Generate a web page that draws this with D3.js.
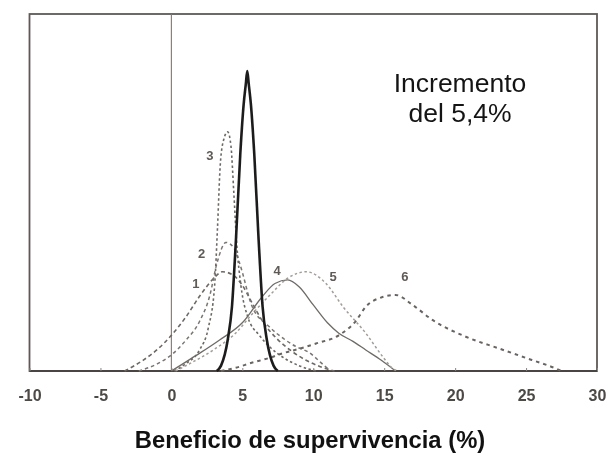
<!DOCTYPE html>
<html>
<head>
<meta charset="utf-8">
<script src="https://cdn.jsdelivr.net/npm/d3@7"></script>
<style>
  html, body { margin: 0; padding: 0; background: #ffffff; }
  svg { display: block; font-family: "Liberation Sans", Arial, sans-serif; }
</style>
</head>
<body>
<svg id="chart" width="610" height="453"></svg>
<script>
// X axis ticks (beneficio de supervivencia, %)
const xTicks = [-10, -5, 0, 5, 10, 15, 20, 25, 30];

// Curves: x = beneficio (%), y = densidad relativa (0–100 of plot height)
const curve1X = [-3.3, -2, -1, 0, 1, 2, 3, 3.6, 4.3, 5.0, 5.7, 6.5, 7.5, 8.5, 9.5, 10.5, 11.5];
const curve1Y = [0, 3, 6, 10, 15, 21, 26, 27.8, 27, 24, 19, 13.5, 8.8, 5.5, 3, 1.2, 0];

const curve2X = [-2.3, -1, 0, 1, 2, 2.7, 3.2, 3.85, 4.4, 4.8, 5.7, 6.9, 8.0, 8.8, 9.7, 10.5, 11.2];
const curve2Y = [0, 2, 4.5, 8.5, 14, 21, 30, 36, 34.5, 30.3, 18, 12.4, 8.8, 6.8, 5.2, 2.5, 0];

const curve3X = [0.2, 1, 2, 2.6, 3.05, 3.25, 3.45, 3.7, 3.97, 4.2, 4.4, 4.6, 4.9, 5.4, 6.2, 7.0, 8.0, 9.0, 10.2];
const curve3Y = [0, 2, 6, 12, 24, 40, 58, 65, 67, 63, 50, 36, 24, 15, 10, 6.5, 3.5, 1.5, 0];

const curve4X = [0, 1, 2, 3.4, 5, 6.4, 7.3, 8.2, 9.0, 10, 11, 11.8, 12.8, 13.7, 14.8, 15.8];
const curve4Y = [0, 2.5, 5, 8.7, 13.5, 20.8, 24.5, 25.5, 23.6, 18.5, 13.5, 10.6, 8.3, 5.9, 3, 0];

const curve5X = [0.3, 1.5, 3, 4.5, 5.7, 7, 8.2, 9.5, 10.9, 12.1, 13.7, 14.9, 15.6, 16];
const curve5Y = [0, 2.5, 6, 10.5, 16, 21.5, 26, 27.8, 24.5, 18, 10.6, 4, 0.7, 0];

const curve6X = [3.5, 4.8, 5.5, 7, 7.8, 9, 10.2, 11.8, 13, 13.7, 14.8, 15.8, 17, 18.4, 20.75, 23.1, 25.4, 27.1, 27.5];
const curve6Y = [0, 1.2, 2.1, 3.8, 4.9, 6.2, 7.7, 10, 14, 18, 20.6, 21.3, 18.5, 14.3, 9.6, 6.3, 3.1, 0.7, 0];

// Pooled estimate (incremento del 5,4%)
const pooledX = [3.2, 3.5, 3.97, 4.27, 4.55, 4.86, 5.09, 5.25, 5.35, 5.45, 5.61, 5.84, 6.15, 6.43, 6.73, 7.2, 7.5];
const pooledY = [0, 1.5, 8.7, 18, 36.7, 61, 74.5, 80.5, 84, 80.5, 74.5, 61, 36.7, 18, 8.7, 1.5, 0];

// Curve number labels, anchored in data units
const labelNames = ["1", "2", "3", "4", "5", "6"];
const labelX = [1.73, 2.14, 2.72, 7.46, 11.4, 16.46];
const labelY = [24.6, 33, 60.5, 28.3, 26.4, 26.4];

const xTitle = "Beneficio de supervivencia (%)";
const noteLines = ["Incremento", "del 5,4%"];

// ---- layout ----
const svg = d3.select("#chart");
const plotLeft = 29.5, plotRight = 597, plotTop = 14, plotBottom = 371;

const x = d3.scaleLinear().domain([-10, 30]).range([plotLeft, plotRight]);
const y = d3.scaleLinear().domain([0, 100]).range([plotBottom, plotTop]);

const zip = (xs, ys) => xs.map((v, i) => [v, ys[i]]);

const series = [
  { pts: zip(curve1X, curve1Y), stroke: "#6e6864", width: 1.6, dash: "4,3" },
  { pts: zip(curve2X, curve2Y), stroke: "#7a7470", width: 1.5, dash: "3.5,3" },
  { pts: zip(curve3X, curve3Y), stroke: "#6e6864", width: 1.6, dash: "2.5,2.5" },
  { pts: zip(curve4X, curve4Y), stroke: "#6f6a66", width: 1.3, dash: null },
  { pts: zip(curve5X, curve5Y), stroke: "#a39c97", width: 1.5, dash: "2.5,2.5" },
  { pts: zip(curve6X, curve6Y), stroke: "#6a6460", width: 2.0, dash: "3.5,4" },
  { pts: zip(pooledX, pooledY), stroke: "#1e1c1b", width: 2.6, dash: null }
];

const defs = svg.append("defs");
defs.append("filter").attr("id", "soft")
  .attr("x", "-5%").attr("y", "-5%").attr("width", "110%").attr("height", "110%")
  .append("feGaussianBlur").attr("stdDeviation", 0.45);

const plot = svg.append("g").attr("filter", "url(#soft)");

// Frame
plot.append("rect")
  .attr("x", plotLeft).attr("y", plotTop)
  .attr("width", plotRight - plotLeft).attr("height", plotBottom - plotTop)
  .attr("fill", "none").attr("stroke", "#5e5955").attr("stroke-width", 1.8);

// Baseline emphasized
plot.append("line")
  .attr("x1", plotLeft).attr("x2", plotRight).attr("y1", plotBottom).attr("y2", plotBottom)
  .attr("stroke", "#4a4542").attr("stroke-width", 2);

// Zero reference line
plot.append("line")
  .attr("x1", x(0)).attr("x2", x(0)).attr("y1", plotTop).attr("y2", plotBottom)
  .attr("stroke", "#7d7874").attr("stroke-width", 1.1);

// X axis ticks and labels (plain hyphen for negatives)
const axis = d3.axisBottom(x).tickValues(xTicks).tickSize(0).tickPadding(0)
  .tickFormat(d => String(d));
const axisG = plot.append("g").attr("transform", `translate(0,${plotBottom})`).call(axis);
axisG.select(".domain").remove();
axisG.selectAll(".tick text")
  .attr("y", 30).attr("dy", 0)
  .attr("font-size", 16).attr("fill", "#4d4845")
  .attr("font-family", "'Liberation Sans', Arial, sans-serif")
  .attr("font-weight", "bold");
axisG.selectAll(".tick").append("line")
  .attr("y1", 0).attr("y2", -3).attr("stroke", "#8a8581").attr("stroke-width", 1);

// Curves
const line = d3.line()
  .x(d => x(d[0])).y(d => y(d[1]))
  .curve(d3.curveMonotoneX);

plot.selectAll("path.curve")
  .data(series)
  .join("path")
  .attr("class", "curve")
  .attr("d", d => line(d.pts))
  .attr("fill", "none")
  .attr("stroke", d => d.stroke)
  .attr("stroke-width", d => d.width)
  .attr("stroke-dasharray", d => d.dash)
  .attr("stroke-linejoin", "round");

// Curve number labels
plot.selectAll("text.num")
  .data(labelNames)
  .join("text")
  .attr("class", "num")
  .attr("x", (d, i) => x(labelX[i]))
  .attr("y", (d, i) => y(labelY[i]))
  .attr("dy", "0.36em")
  .attr("text-anchor", "middle")
  .attr("font-size", 13)
  .attr("font-weight", "bold")
  .attr("fill", "#5f5a56")
  .text(d => d);

// Annotation
svg.append("text")
  .attr("x", 460).attr("y", 92)
  .attr("text-anchor", "middle")
  .attr("font-size", 26.5)
  .attr("fill", "#141414")
  .selectAll("tspan")
  .data(noteLines)
  .join("tspan")
  .attr("x", 460)
  .attr("dy", (d, i) => i === 0 ? 0 : 30)
  .text(d => d);

// Axis title
svg.append("text")
  .attr("x", 310).attr("y", 448)
  .attr("text-anchor", "middle")
  .attr("font-size", 23.8)
  .attr("font-weight", "bold")
  .attr("fill", "#111")
  .text(xTitle);
</script>
</body>
</html>
